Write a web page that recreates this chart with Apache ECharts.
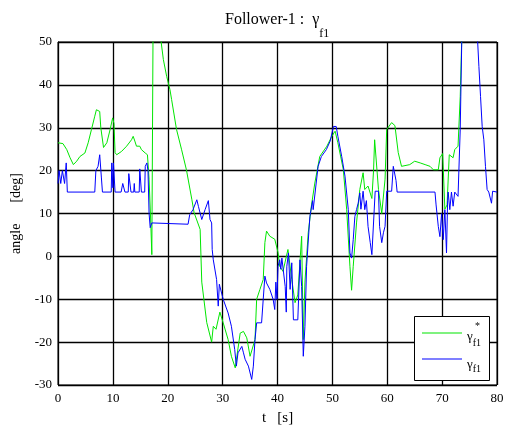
<!DOCTYPE html>
<html>
<head>
<meta charset="utf-8">
<script src="https://cdn.jsdelivr.net/npm/echarts@6/dist/echarts.min.js"></script>
<style>
html,body{margin:0;padding:0;background:#fff;}
#c{width:510px;height:427px;}
</style>
</head>
<body>
<div id="c"></div>
<script>
// γ* (reference) series: time [s] and angle [deg]
const tRef = [0,0.9,1.6,2.2,2.8,3.4,4,4.9,5.5,6.1,6.7,7,7.6,7.8,8.3,8.9,9.5,9.96,10.2,10.4,10.7,11.6,12.5,13.4,13.7,14,14.3,14.9,15.2,15.9,16.3,16.6,16.9,17.1,17.25,17.35,18.3,19.2,19.8,20.4,20.7,21.6,22.5,23.4,24.4,24.8,25.9,26.2,27.1,28,28.3,28.8,29.5,30.1,31,31.6,32.3,32.6,33.2,33.8,34.4,35,35.3,35.9,36.2,36.8,37.4,37.7,38,38.6,39.5,40.1,40.4,41,41.9,42.6,43.2,43.7,44.4,44.7,45,45.6,46.2,46.8,47.7,49,49.9,50.5,51,52,52.6,53.2,53.5,53.8,54.4,55,55.6,55.9,56.5,57.2,57.5,57.7,58.4,59,59.6,59.9,60.8,61.4,62,62.6,64.1,65,66,66.9,67.8,68.4,69.3,69.6,70.1,70.5,70.9,71.3,72,72.3,72.9,73.3,73.6,74];
const gRef = [26.5,26.3,24.9,23,21.4,22.2,23.3,24.1,26.5,29.6,32.7,34.2,33.8,30,25.4,26.5,29.6,32.3,31,24.2,23.7,24.5,25.7,27.2,28,26.9,25.7,25.7,24.9,24.1,23.7,18,8,0.4,0.5,60,55,45.9,42,38.9,36.6,29.6,25,20.2,13.2,10.2,6.3,-6,-15.4,-20,-16.3,-17,-13,-15.5,-19.4,-23.3,-26,-25.6,-17.9,-17.5,-19,-23.3,-23.7,-19.4,-10,-7.7,-5.4,3.2,5.9,4.7,4,0.9,-2.3,-3.5,1.6,-5.4,-10.8,-9,4.7,-19.4,-6,5.5,12,17.1,23.3,25.7,28,29.2,26.5,20.2,11,-2.3,-7.9,-2.3,7.8,15.6,19.5,15.6,16.4,13.5,20,27.2,15.6,10,18,29.6,31.2,30.5,24.2,21,21.4,22.2,21.8,21.4,21,20.2,20.2,23,24,11,12,23.7,23,24.9,25.7,37.3,52,65];

// γ (actual) series
const tAct = [0,0.2,0.5,0.8,1.2,1.5,1.7,6.7,6.9,7.3,7.6,7.9,8.1,9.7,9.8,10,10.1,10.4,11.5,11.8,12.2,12.8,12.9,13.2,13.3,13.8,13.9,14,14.8,14.9,15.2,15.8,15.9,16.2,16.4,16.6,16.8,17.1,17.3,23.7,24,24.6,25.3,25.6,26.2,26.8,27.4,27.7,28,28.1,28.3,28.6,28.9,29.2,29.4,29.5,30.1,31,31.6,32.2,32.5,32.8,33.5,33.8,34.1,34.7,35.3,35.6,35.9,36.2,37.1,37.4,37.7,38,38.6,39.2,39.5,39.7,39.9,40.1,40.4,40.6,40.8,41.1,41.4,41.6,41.7,42,42.3,42.6,42.9,43.7,44.1,44.4,44.7,45,45.3,45.9,46.4,46.5,47.4,48,48.9,49.6,50.2,50.7,51,51.7,52.3,52.9,53.2,53.5,53.8,54.1,54.4,54.7,55,55.2,55.6,55.9,56.2,56.5,56.9,57.2,57.5,57.8,58.4,58.6,59,59.3,59.6,59.9,60.8,61.1,61.6,61.8,68.7,68.9,69.3,69.6,69.9,70.2,70.5,70.8,71,71.1,71.4,71.7,72,72.3,72.6,72.9,73.3,73.6,74,76.2,76.4,76.7,77,77.3,77.6,77.9,78.2,78.5,79,79.2,80];
const gAct = [17,20,17,20,17,21.8,15,15,20,21,23.7,18.5,15,15,21.8,16,21.8,15,15,17,15,15,19.3,19.3,15,15,17,15,15,20.4,15,15,21,21.8,20,10,6.7,7.8,7.5,7.5,9.7,10.9,13.2,11.6,8.6,10.9,13,8.6,7.8,1.6,-0.8,-0.8,-5.4,-11.6,-6.5,-7,-10,-13.2,-16.3,-21.7,-25.6,-22.5,-21,-22.5,-24,-25.6,-28.7,-25.6,-19.4,-15.5,-15.5,-10,-4.6,-6.2,-7.7,-10,-12.4,-6,-10,-2.3,-0.8,-3,-0.4,-0.8,-7,-13,-2.3,0.8,-7.7,-1.5,-14.8,-14.8,-0.8,-7,-23.3,-16.3,-2.3,9.3,13,10.9,21,23.3,24.9,26.9,30.3,30.3,28,23.3,18.7,10.9,0.8,-0.4,3.9,9.3,10.9,12.4,14.8,11,15.2,10.9,13,7,3.2,0.4,0.4,15.2,15.2,7,3.2,5.5,7,15.2,15.2,21,17.7,15,15,12,7,4.6,10,3.9,10.9,0.8,13,15,10.9,15,11.7,15,15,14,29.6,52,70,70,52,44.3,37.3,30.3,27.2,21,15.6,15,12.4,15.2,15];

const xTicks = [0,10,20,30,40,50,60,70,80];
const yTicks = [-30,-20,-10,0,10,20,30,40,50];

const serif = '"Liberation Serif","DejaVu Serif",serif';
const chart = echarts.init(document.getElementById('c'), null, {renderer:'canvas'});

const refData = tRef.map((t,i)=>[t,gRef[i]]);
const actData = tAct.map((t,i)=>[t,gAct[i]]);

const axisCommon = {
  axisLine:{show:true,lineStyle:{color:'#000',width:1}},
  axisTick:{show:false},
  splitLine:{show:true,lineStyle:{color:'#000',width:1.3}},
  axisLabel:{color:'#000',fontFamily:serif,fontSize:13}
};

chart.setOption({
  animation:false,
  backgroundColor:'#fff',
  title:{
    text:'{a|Follower-1 :  γ}{s|f1}',
    left:220, top:7,
    textStyle:{
      fontWeight:'normal',
      rich:{
        a:{fontFamily:serif,fontSize:16,fontWeight:'normal',color:'#000',lineHeight:20,verticalAlign:'top'},
        s:{fontFamily:serif,fontSize:12,fontWeight:'normal',color:'#000',lineHeight:14,padding:[16,0,0,0],verticalAlign:'top'}
      }
    }
  },
  grid:{left:58,top:42,width:439,height:343,show:true,borderColor:'#000',borderWidth:1,containLabel:false,outerBoundsMode:'none'},
  xAxis:{
    type:'value',min:xTicks[0],max:xTicks[xTicks.length-1],interval:10,
    name:'t   [s]',nameLocation:'middle',nameGap:26,
    nameTextStyle:{fontFamily:serif,fontSize:15,color:'#000'},
    ...axisCommon,
    axisLabel:{...axisCommon.axisLabel,margin:7}
  },
  yAxis:{
    type:'value',min:yTicks[0],max:yTicks[yTicks.length-1],interval:10,
    name:'angle      [deg]',nameLocation:'middle',nameGap:31,nameRotate:90,
    nameTextStyle:{fontFamily:serif,fontSize:14,color:'#000'},
    ...axisCommon,
    axisLabel:{...axisCommon.axisLabel,margin:6}
  },
  graphic:[{
    type:'rect',left:414,top:316,z:90,
    shape:{width:75,height:64},
    style:{fill:'#fff',stroke:'#000',lineWidth:1}
  }],
  legend:[{
    data:['ref'],left:422,top:320,padding:0,itemWidth:40,itemHeight:1,icon:'rect',z:100,
    formatter:()=>'{sp| }{sup|*}\n{g|γ}{sb|f1}',
    textStyle:{
      rich:{
        sp:{fontFamily:serif,fontSize:12,width:8,lineHeight:9},
        sup:{fontFamily:serif,fontSize:10,color:'#000',lineHeight:9},
        g:{fontFamily:serif,fontSize:13,color:'#000',lineHeight:14,verticalAlign:'top'},
        sb:{fontFamily:serif,fontSize:10,color:'#000',lineHeight:10,padding:[8,0,0,0],verticalAlign:'top'}
      }
    }
  },{
    data:['act'],left:422,top:352,padding:0,itemWidth:40,itemHeight:1,icon:'rect',z:100,
    formatter:()=>'{g|γ}{sb|f1}',
    textStyle:{
      rich:{
        g:{fontFamily:serif,fontSize:13,color:'#000',lineHeight:14,padding:[6,0,0,0],verticalAlign:'top'},
        sb:{fontFamily:serif,fontSize:10,color:'#000',lineHeight:10,padding:[12,0,0,0],verticalAlign:'top'}
      }
    }
  }],
  series:[{
    name:'ref',type:'line',data:refData,symbol:'none',showSymbol:false,
    lineStyle:{color:'#00e600',width:1},itemStyle:{color:'#00e600'},clip:true
  },{
    name:'act',type:'line',data:actData,symbol:'none',showSymbol:false,
    lineStyle:{color:'#0000ff',width:1},itemStyle:{color:'#0000ff'},clip:true
  }]
});
</script>
</body>
</html>
